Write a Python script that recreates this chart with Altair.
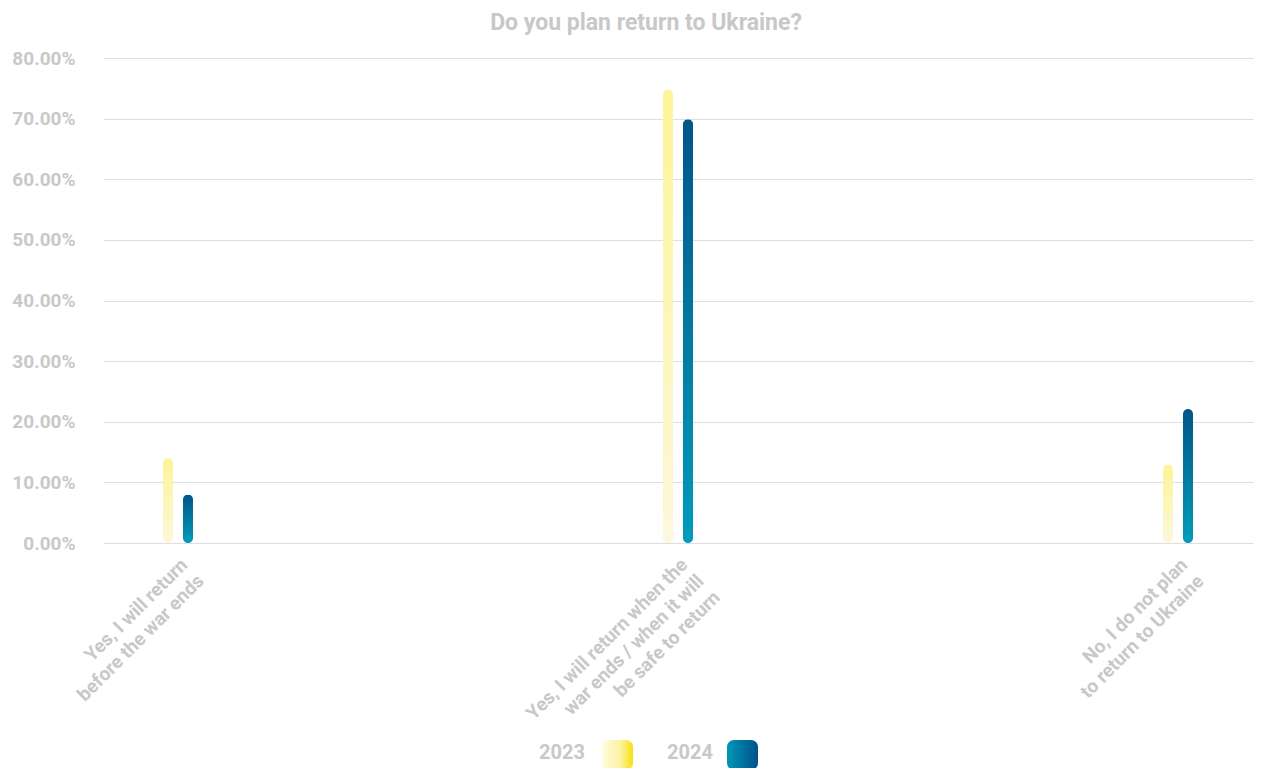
import altair as alt
import pandas as pd

categories = [
    "Yes, I will return|before the war ends",
    "Yes, I will return when the|war ends / when it will|be safe to return",
    "No, I do not plan|to return to Ukraine",
]
years = ["2023", "2024"]
values_2023 = [0.140, 0.748, 0.129]
values_2024 = [0.080, 0.699, 0.221]
y_ticks = [0.0, 0.1, 0.2, 0.3, 0.4, 0.5, 0.6, 0.7, 0.8]

rows = []
for c, v in zip(categories, values_2023):
    rows.append({"category": c, "year": "2023", "value": v})
for c, v in zip(categories, values_2024):
    rows.append({"category": c, "year": "2024", "value": v})
df = pd.DataFrame(rows)

GRAY = "#c8c8c8"
FONT = "Roboto"

grad_2023 = alt.Gradient(
    gradient="linear", x1=0, x2=0, y1=0, y2=1,
    stops=[alt.GradientStop(color="#fdf497", offset=0),
           alt.GradientStop(color="#fcf8dc", offset=1)],
)
grad_2024 = alt.Gradient(
    gradient="linear", x1=0, x2=0, y1=0, y2=1,
    stops=[alt.GradientStop(color="#00558a", offset=0),
           alt.GradientStop(color="#009cbb", offset=1)],
)
leg_2023 = alt.Gradient(
    gradient="linear", x1=0, x2=1, y1=0, y2=0,
    stops=[alt.GradientStop(color="#fffbe0", offset=0),
           alt.GradientStop(color="#fdf3a0", offset=0.6),
           alt.GradientStop(color="#f5e10f", offset=1)],
)
leg_2024 = alt.Gradient(
    gradient="linear", x1=0, x2=1, y1=0, y2=0,
    stops=[alt.GradientStop(color="#0096b6", offset=0),
           alt.GradientStop(color="#00528a", offset=1)],
)

x_enc = alt.X(
    "category:N",
    sort=categories,
    scale=alt.Scale(paddingInner=0.9, paddingOuter=0.1),
    axis=alt.Axis(
        title=None,
        labelAngle=-45,
        labelAlign="right",
        labelBaseline="top",
        labelExpr="split(datum.label, '|')",
        labelLineHeight=23,
        labelPadding=12,
        labelFontSize=19,
        domain=False,
        ticks=False,
        grid=False,
        labelLimit=500,
    ),
)
y_enc = alt.Y(
    "value:Q",
    scale=alt.Scale(domain=[0, 0.8], nice=False),
    axis=alt.Axis(
        title=None,
        values=y_ticks,
        format=".2%",
        labelPadding=28,
        labelFontSize=19,
        domain=False,
        ticks=False,
        gridColor="#dedede",
        gridWidth=1,
    ),
)
xo_enc = alt.XOffset(
    "year:N",
    scale=alt.Scale(domain=years, paddingInner=0.5, paddingOuter=0.5),
)

base = alt.Chart(df).encode(x=x_enc, y=y_enc, xOffset=xo_enc)
bars_2023 = base.transform_filter(alt.datum.year == "2023").mark_bar(
    size=10, cornerRadius=5, color=grad_2023
)
bars_2024 = base.transform_filter(alt.datum.year == "2024").mark_bar(
    size=10, cornerRadius=5, color=grad_2024
)

legend_text_x = [459, 587]
legend_box_x = [499, 624]
legend_grads = [leg_2023, leg_2024]
legend_layers = []
for i, yr in enumerate(years):
    ldf = pd.DataFrame({"year": [yr]})
    legend_layers.append(
        alt.Chart(ldf).mark_text(
            font=FONT, fontSize=20, fontWeight="bold", color=GRAY,
            align="center", baseline="middle",
        ).encode(text="year:N", x=alt.value(legend_text_x[i]), y=alt.value(695))
    )
    legend_layers.append(
        alt.Chart(ldf).mark_rect(color=legend_grads[i], cornerRadius=7).encode(
            x=alt.value(legend_box_x[i]), x2=alt.value(legend_box_x[i] + 31),
            y=alt.value(682), y2=alt.value(712),
        )
    )

chart = alt.layer(bars_2023, bars_2024, *legend_layers).properties(
    width=1150,
    height=485,
    padding={"left": 95, "top": 50, "right": 3, "bottom": 225},
    autosize=alt.AutoSizeParams(type="none"),
    title=alt.Title(
        "Do you plan return to Ukraine?",
        font=FONT, fontSize=23, fontWeight="bold", color=GRAY,
        anchor="middle", dx=-32, offset=14,
    ),
).configure_view(stroke=None).configure_axis(
    labelFont=FONT, labelFontWeight="bold", labelColor=GRAY
)

chart.save("out.html", embed_options={"renderer": "svg", "actions": False})
